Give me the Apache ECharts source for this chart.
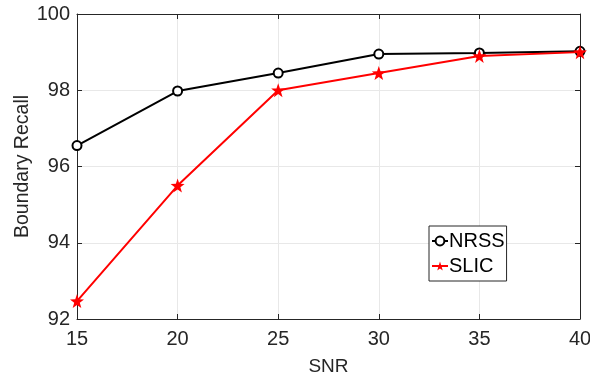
<!DOCTYPE html>
<html><head><meta charset="utf-8">
<script src="https://cdn.jsdelivr.net/npm/echarts@6/dist/echarts.min.js"></script>
<style>html,body{margin:0;padding:0;background:#fff}#c{width:590px;height:375px}</style>
</head><body><div id="c"></div>
<script>
const snr = [15, 20, 25, 30, 35, 40];
const nrss = [96.55, 97.98, 98.45, 98.95, 98.98, 99.02];
const slic = [92.47, 95.5, 98.0, 98.45, 98.9, 99.0];

const font = 'Liberation Sans, Arial, sans-serif';
const axCol = '#262626';
const chart = echarts.init(document.getElementById('c'));
const pair = (xs, ys) => xs.map((x, i) => [x, ys[i]]);
const baseX = {type:'value', min:15, max:40, interval:5};
const baseY = {type:'value', min:92, max:100, interval:2};
chart.setOption({
  animation:false,
  grid:{left:77, right:10, top:14, bottom:56, containLabel:false, outerBoundsMode:'none'},
  xAxis:[
    Object.assign({}, baseX, {position:'bottom', name:'SNR', nameLocation:'middle', nameGap:38, nameMoveOverlap:false,
      nameTextStyle:{fontFamily:font, fontSize:19, color:axCol},
      axisLine:{lineStyle:{color:axCol, width:1}},
      axisTick:{inside:true, length:5, lineStyle:{color:axCol}},
      axisLabel:{fontFamily:font, fontSize:20, color:axCol, margin:10},
      splitLine:{show:true, lineStyle:{color:'#e8e8e8', width:1}}}),
    Object.assign({}, baseX, {position:'top',
      axisLine:{lineStyle:{color:axCol, width:1}},
      axisTick:{inside:true, length:5, lineStyle:{color:axCol}},
      axisLabel:{show:false}, splitLine:{show:false}})
  ],
  yAxis:[
    Object.assign({}, baseY, {position:'left', name:'Boundary Recall', nameLocation:'middle', nameGap:44, nameMoveOverlap:false,
      nameTextStyle:{fontFamily:font, fontSize:19.5, color:axCol},
      axisLine:{show:true, lineStyle:{color:axCol, width:1}},
      axisTick:{show:true, inside:true, length:5, lineStyle:{color:axCol}},
      axisLabel:{fontFamily:font, fontSize:20, color:axCol, margin:7},
      splitLine:{show:true, lineStyle:{color:'#e8e8e8', width:1}}}),
    Object.assign({}, baseY, {position:'right',
      axisLine:{show:true, lineStyle:{color:axCol, width:1}},
      axisTick:{show:true, inside:true, length:5, lineStyle:{color:axCol}},
      axisLabel:{show:false}, splitLine:{show:false}})
  ],
  legend:{
    left:429, top:226, orient:'vertical',
    backgroundColor:'#fff', borderColor:axCol, borderWidth:1,
    padding:[5,2,5,2], itemGap:5, itemWidth:16, itemHeight:11,
    textStyle:{fontFamily:font, fontSize:20, color:'#000', padding:[0,0,0,-4]},
    data:['NRSS','SLIC']
  },
  series:[
    {name:'NRSS', type:'line', data:pair(snr, nrss), symbol:'circle', symbolSize:9,
      lineStyle:{color:'#000', width:2}, itemStyle:{color:'#fff', borderColor:'#000', borderWidth:2}, z:3},
    {name:'SLIC', type:'line', data:pair(snr, slic), symbol:'path://M0,-10 L2.35,-3.24 L9.51,-3.09 L3.8,1.24 L5.88,8.09 L0,4 L-5.88,8.09 L-3.8,1.24 L-9.51,-3.09 L-2.35,-3.24 Z', symbolSize:14,
      lineStyle:{color:'#ff0000', width:2}, itemStyle:{color:'#ff0000', borderColor:'#ff0000', borderWidth:0}, z:4}
  ]
});
</script></body></html>
